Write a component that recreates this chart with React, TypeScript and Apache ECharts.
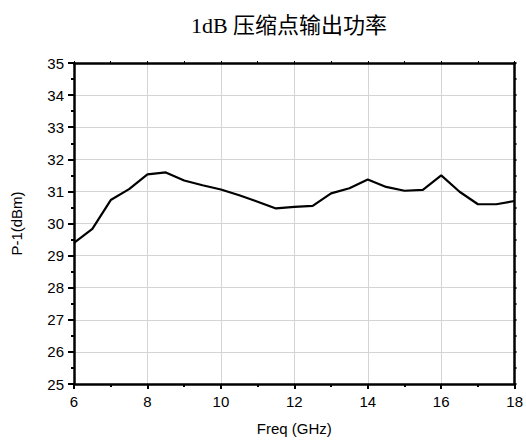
import React, { useEffect, useRef } from "react";
import * as echarts from "echarts";

const freqs = [6, 6.5, 7, 7.5, 8, 8.5, 9, 9.5, 10, 10.5, 11, 11.5, 12, 12.5, 13, 13.5, 14, 14.5, 15, 15.5, 16, 16.5, 17, 17.5, 18];
const p1dB = [29.4, 29.83, 30.73, 31.07, 31.53, 31.59, 31.34, 31.19, 31.06, 30.88, 30.68, 30.47, 30.52, 30.55, 30.94, 31.1, 31.37, 31.14, 31.02, 31.05, 31.5, 30.99, 30.6, 30.6, 30.7];

const titleText = "1dB 压缩点输出功率";
const xName = "Freq (GHz)";
const yName = "P-1(dBm)";

export default function App() {
  const ref = useRef<HTMLDivElement>(null);
  useEffect(() => {
    if (!ref.current) return;
    const chart = echarts.init(ref.current, null, { renderer: "svg" });
    const labelFont = { fontFamily: "Liberation Sans, Arial, sans-serif", fontSize: 15, color: "#000", fontWeight: "normal" };
    const axisLine = { show: true, onZero: false, lineStyle: { color: "#000", width: 2.5 } };
    chart.setOption({
      animation: false,
      backgroundColor: "#fff",
      title: {
        text: titleText,
        left: 284,
        top: 9,
        textAlign: "center",
        textStyle: { fontFamily: "Liberation Serif, 'Times New Roman', 'Noto Sans CJK SC', serif", fontSize: 22, fontWeight: "normal", color: "#000" },
      },
      grid: { left: 74, right: 8, top: 63, bottom: 53, containLabel: false },
      xAxis: [
        {
          type: "value",
          min: 6,
          max: 18,
          interval: 2,
          position: "bottom",
          axisLine,
          axisTick: { show: true, length: 5, lineStyle: { color: "#000", width: 2 } },
          minorTick: { show: true, splitNumber: 2, length: 3, lineStyle: { color: "#000", width: 2 } },
          axisLabel: { ...labelFont, margin: 10 },
          splitLine: { show: true, lineStyle: { color: "#d4d4d4", width: 1 } },
          name: xName,
          nameLocation: "middle",
          nameGap: 37,
          nameTextStyle: { ...labelFont },
        },
        {
          type: "value",
          min: 6,
          max: 18,
          interval: 2,
          position: "top",
          axisLine,
          axisTick: { show: true, length: 2, lineStyle: { color: "#000", width: 1 } },
          minorTick: { show: true, splitNumber: 2, length: 2, lineStyle: { color: "#000", width: 1 } },
          axisLabel: { show: false },
          splitLine: { show: false },
        },
      ],
      yAxis: [
        {
          type: "value",
          min: 25,
          max: 35,
          interval: 1,
          position: "left",
          axisLine,
          axisTick: { show: true, length: 6, lineStyle: { color: "#000", width: 2 } },
          minorTick: { show: true, splitNumber: 2, length: 3, lineStyle: { color: "#000", width: 2 } },
          axisLabel: { ...labelFont, margin: 10 },
          splitLine: { show: true, lineStyle: { color: "#d4d4d4", width: 1 } },
          name: yName,
          nameLocation: "middle",
          nameGap: 50,
          nameRotate: 90,
          nameTextStyle: { ...labelFont },
        },
        {
          type: "value",
          min: 25,
          max: 35,
          interval: 1,
          position: "right",
          axisLine,
          axisTick: { show: true, length: 2, lineStyle: { color: "#000", width: 1.5 } },
          minorTick: { show: true, splitNumber: 2, length: 2, lineStyle: { color: "#000", width: 1.5 } },
          axisLabel: { show: false },
          splitLine: { show: false },
        },
      ],
      series: [
        {
          type: "line",
          xAxisIndex: 0,
          yAxisIndex: 0,
          data: freqs.map((f, i) => [f, p1dB[i]]),
          showSymbol: false,
          symbol: "none",
          lineStyle: { color: "#000", width: 2.2 },
          z: 5,
        },
      ],
    });
    return () => chart.dispose();
  }, []);
  return <div ref={ref} style={{ width: 526, height: 441, position: "absolute", left: 0, top: 0 }} />;
}
